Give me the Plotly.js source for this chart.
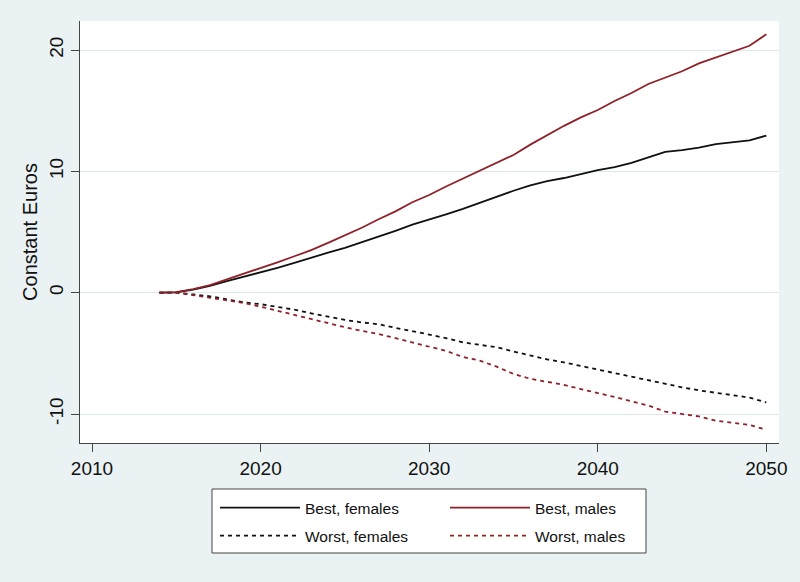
<!DOCTYPE html>
<html>
<head>
<meta charset="utf-8">
<script src="https://cdn.plot.ly/plotly-3.0.1.min.js"></script>
<style>
html,body{margin:0;padding:0;background:#EAF2F3;}
#chart{width:800px;height:582px;}
</style>
</head>
<body>
<div id="chart"></div>
<script>
const years = [2014,2015,2016,2017,2018,2019,2020,2021,2022,2023,2024,2025,2026,2027,2028,2029,2030,2031,2032,2033,2034,2035,2036,2037,2038,2039,2040,2041,2042,2043,2044,2045,2046,2047,2048,2049,2050];
const bestFemales = [0,0.02,0.25,0.55,0.95,1.3,1.7,2.05,2.45,2.9,3.3,3.7,4.15,4.6,5.1,5.6,6.0,6.45,6.9,7.4,7.95,8.4,8.85,9.2,9.45,9.8,10.1,10.35,10.7,11.15,11.6,11.75,11.95,12.25,12.4,12.55,12.95];
const bestMales = [0,0.05,0.3,0.62,1.1,1.55,2.05,2.5,3.0,3.5,4.1,4.7,5.35,6.05,6.7,7.45,8.05,8.75,9.4,10.0,10.7,11.35,12.2,13.0,13.75,14.45,15.05,15.8,16.45,17.2,17.75,18.25,18.9,19.4,19.85,20.35,21.3];
const worstFemales = [0,0,-0.15,-0.3,-0.55,-0.8,-0.95,-1.15,-1.4,-1.7,-2.0,-2.25,-2.45,-2.6,-2.9,-3.15,-3.45,-3.75,-4.1,-4.3,-4.5,-4.85,-5.2,-5.5,-5.75,-6.05,-6.3,-6.6,-6.9,-7.2,-7.55,-7.8,-8.05,-8.25,-8.45,-8.65,-9.05];
const worstMales = [0,0,-0.2,-0.4,-0.65,-0.85,-1.15,-1.5,-1.85,-2.15,-2.5,-2.85,-3.15,-3.4,-3.75,-4.1,-4.5,-4.8,-5.3,-5.6,-6.1,-6.7,-7.1,-7.35,-7.6,-7.95,-8.25,-8.6,-8.95,-9.3,-9.8,-10.0,-10.2,-10.55,-10.75,-10.9,-11.3];
const xTicks = [2010,2020,2030,2040,2050];
const yTicks = [-10,0,10,20];
const seriesNames = ["Best, females","Best, males","Worst, females","Worst, males"];

const BLACK = "#111111";
const RED = "#8E2129";
const FONT = "Arial, 'Liberation Sans', sans-serif";

const traces = [
  {x: years, y: bestFemales, name: seriesNames[0], mode: "lines", line: {color: BLACK, width: 1.8}, legend: "legend", legendgroup: "a"},
  {x: years, y: bestMales, name: seriesNames[1], mode: "lines", line: {color: RED, width: 1.8}, legend: "legend2", legendgroup: "c"},
  {x: years, y: worstFemales, name: seriesNames[2], mode: "lines", line: {color: BLACK, width: 1.8, dash: "4px,4px"}, legend: "legend", legendgroup: "b"},
  {x: years, y: worstMales, name: seriesNames[3], mode: "lines", line: {color: RED, width: 1.8, dash: "4px,4px"}, legend: "legend2", legendgroup: "d"}
];

const legendCommon = {
  orientation: "v",
  bgcolor: "rgba(0,0,0,0)",
  borderwidth: 0,
  font: {family: FONT, size: 15.5, color: "#111"},
  yref: "paper",
  yanchor: "top",
  xanchor: "left",
  itemwidth: 80,
  tracegroupgap: 5
};

const layout = {
  width: 800,
  height: 582,
  paper_bgcolor: "#EAF2F3",
  plot_bgcolor: "#FFFFFF",
  margin: {l: 80, r: 21, t: 21, b: 139},
  font: {family: FONT, color: "#111"},
  showlegend: true,
  xaxis: {
    range: [2009.288, 2050.75],
    tickvals: xTicks,
    ticktext: xTicks.map(String),
    ticks: "outside",
    ticklen: 8,
    tickcolor: "#444",
    tickwidth: 1,
    showline: true,
    linecolor: "#444",
    linewidth: 1,
    showgrid: false,
    zeroline: false,
    tickfont: {family: FONT, size: 19, color: "#111"}
  },
  yaxis: {
    range: [-12.39, 22.39],
    tickvals: yTicks,
    ticktext: yTicks.map(String),
    tickangle: -90,
    ticks: "outside",
    ticklen: 8,
    tickcolor: "#444",
    tickwidth: 1,
    showline: true,
    linecolor: "#444",
    linewidth: 1,
    showgrid: true,
    gridcolor: "#DDE8EC",
    gridwidth: 1,
    zeroline: false,
    tickfont: {family: FONT, size: 19, color: "#111"},
    title: {text: "Constant Euros", font: {family: FONT, size: 20, color: "#111"}, standoff: 3}
  },
  legend: Object.assign({}, legendCommon, {x: (215 - 80) / 699, y: (443 - 491) / 422}),
  legend2: Object.assign({}, legendCommon, {x: (445 - 80) / 699, y: (443 - 491) / 422}),
  shapes: [{
    type: "rect", xref: "paper", yref: "paper", layer: "above",
    x0: (212 - 80) / 699, x1: (646 - 80) / 699,
    y0: (443 - 489) / 422, y1: (443 - 553) / 422,
    fillcolor: "#FFFFFF", line: {color: "#444", width: 1}
  }]
};

Plotly.newPlot("chart", traces, layout, {displayModeBar: false, staticPlot: true});
</script>
</body>
</html>
